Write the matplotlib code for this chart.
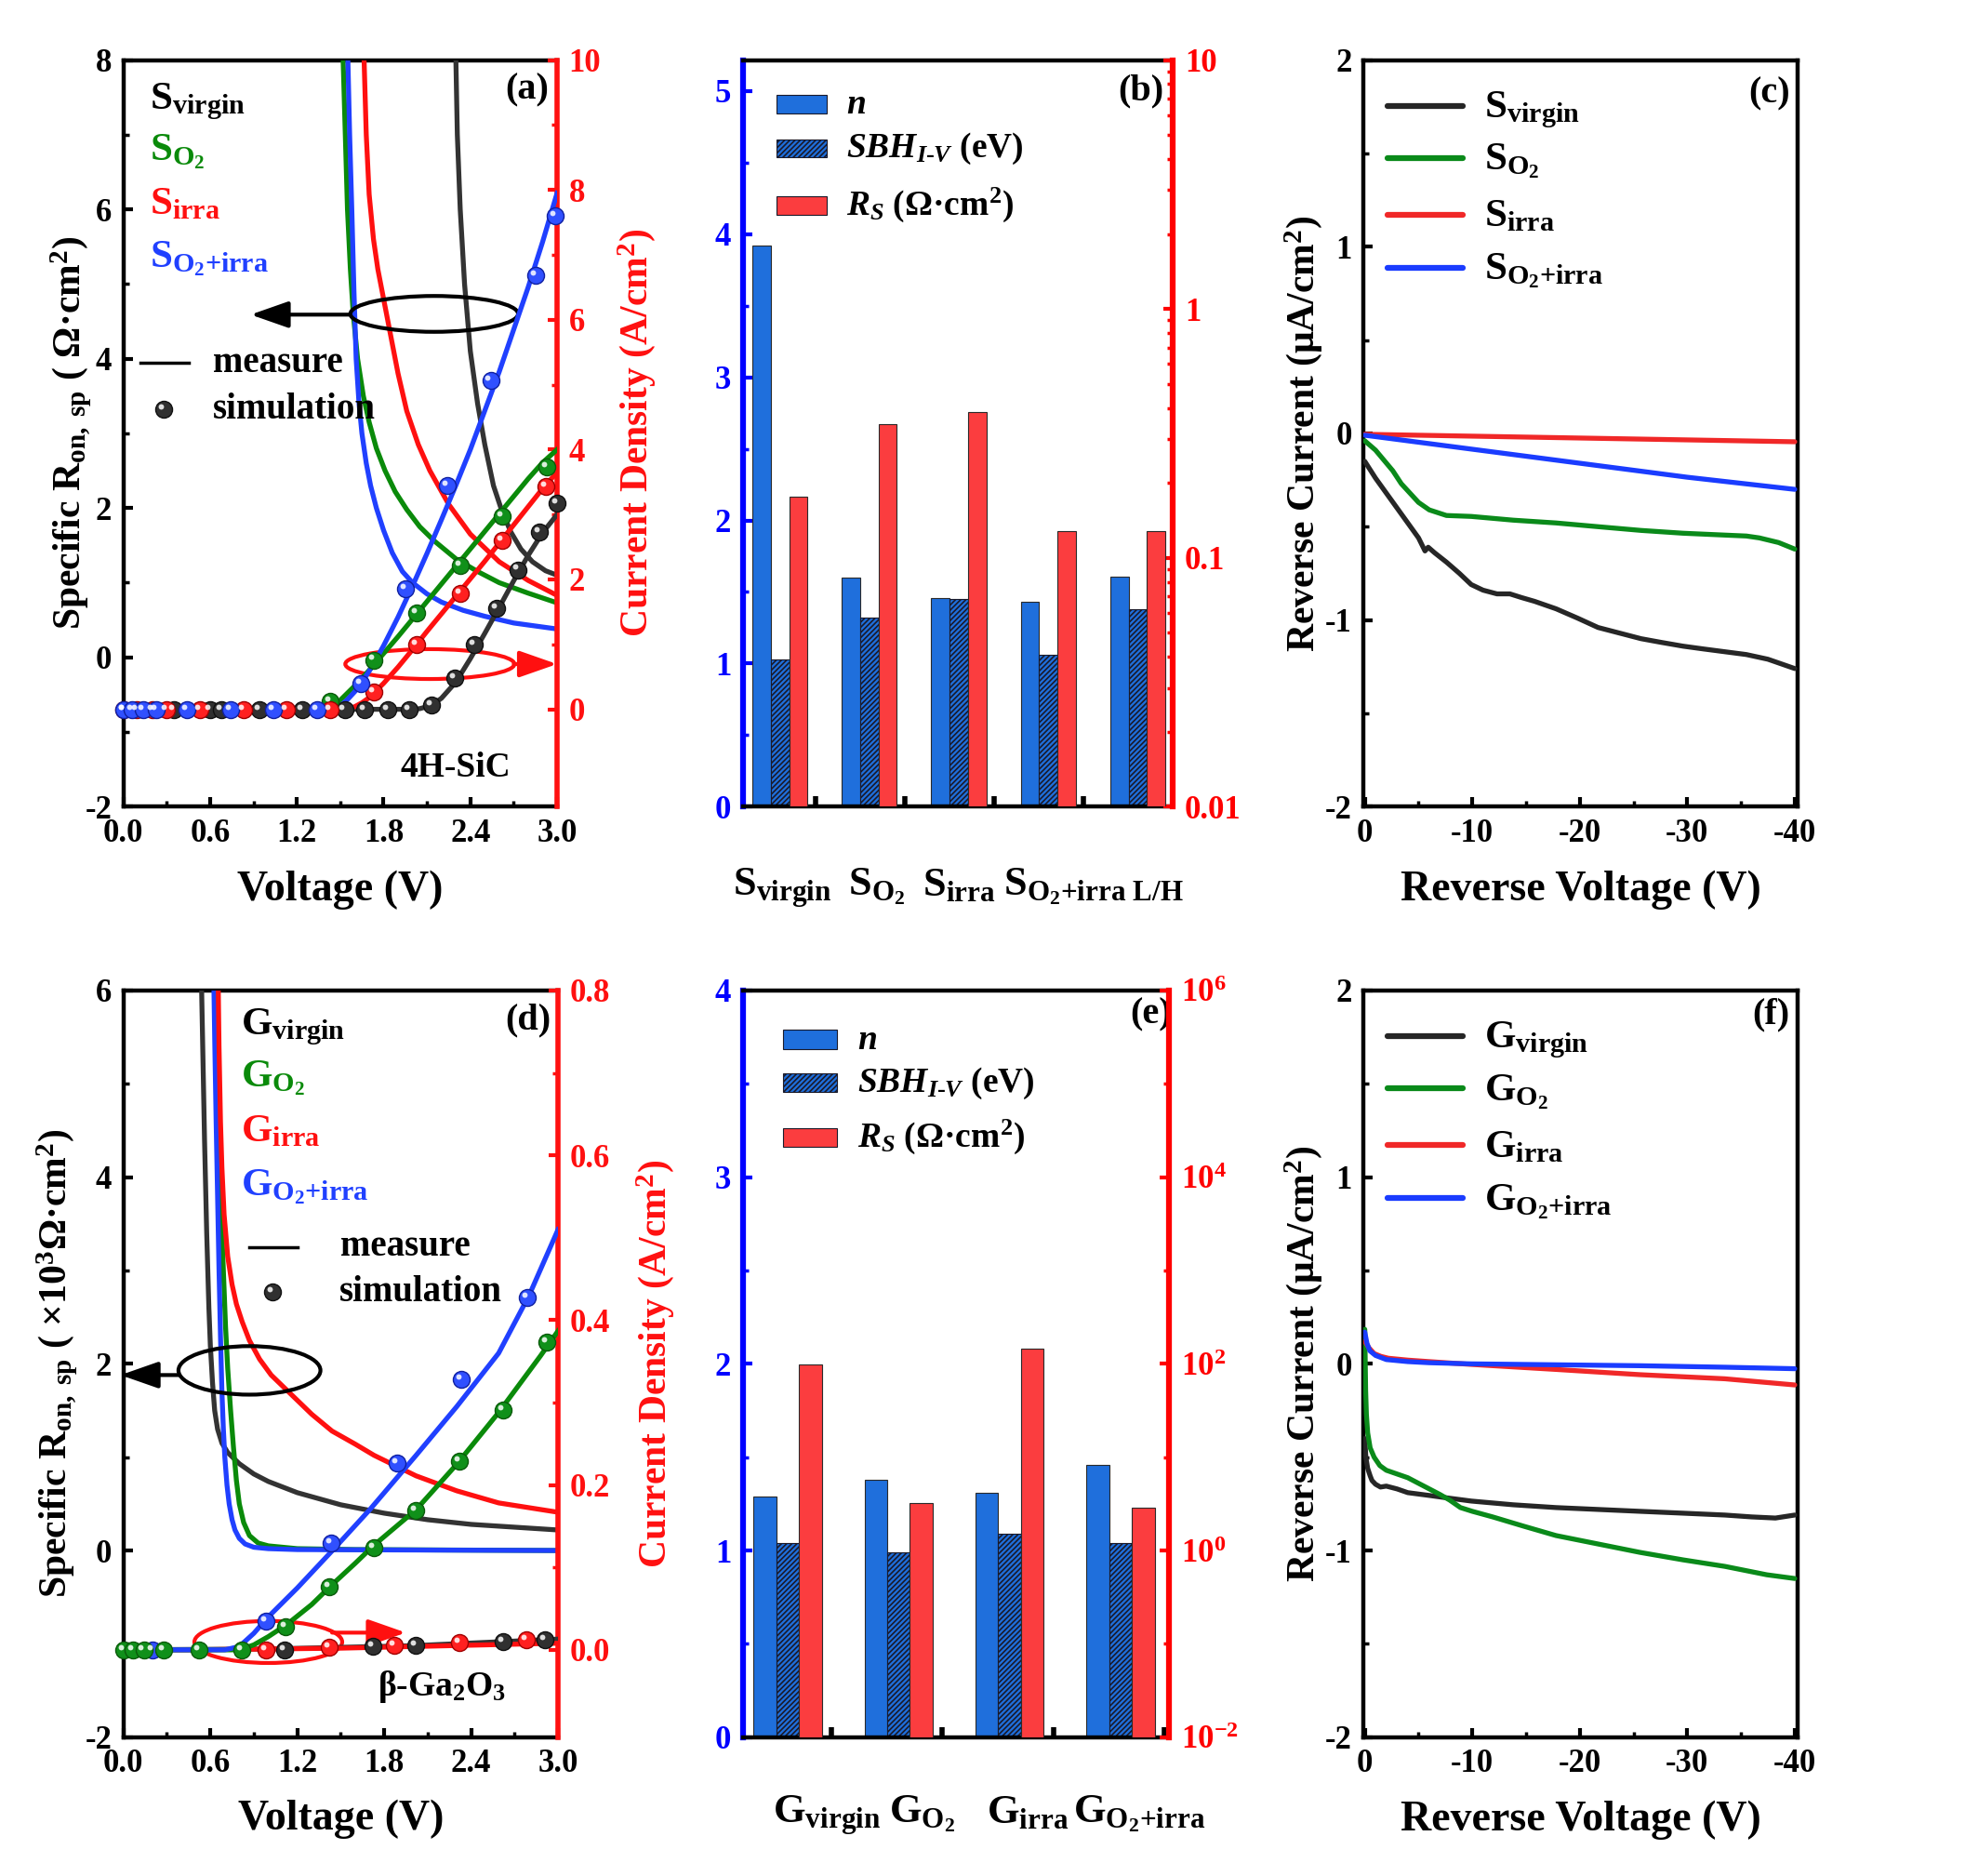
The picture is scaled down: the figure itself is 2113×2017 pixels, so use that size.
import numpy as np
import matplotlib
matplotlib.use('Agg')
import matplotlib.pyplot as plt
from matplotlib.patches import Ellipse, Rectangle
from matplotlib.transforms import offset_copy, blended_transform_factory
from matplotlib.lines import Line2D
from matplotlib.ticker import LogLocator, NullFormatter

plt.rcParams.update({
    'font.family': ['Liberation Serif', 'DejaVu Serif'],
    'font.weight': 'bold',
    'axes.labelweight': 'bold',
    'axes.unicode_minus': False,
    'mathtext.fontset': 'custom',
    'mathtext.rm': 'Liberation Serif:bold',
    'mathtext.it': 'Liberation Serif:italic:bold',
    'mathtext.bf': 'Liberation Serif:bold',
    'mathtext.default': 'rm',
    'axes.linewidth': 3.2,
    'hatch.linewidth': 1.2,
})

# ---------------- colours ----------------
C_BLACK = '#333333'
C_GREEN = '#0a8a0a'
C_RED = '#ff1010'
C_BLUE = '#2040ff'
BAR_BLUE = '#1f6fdc'
BAR_RED = '#fb3d3f'

# ---------------- panel (a) data : 4H-SiC ----------------
a_ron_virgin_v = [2.30, 2.31, 2.33, 2.36, 2.40, 2.45, 2.50, 2.56, 2.62, 2.68, 2.75, 2.83, 2.92, 3.0]
a_ron_virgin = [8.0, 7.0, 6.0, 5.0, 4.1, 3.4, 2.85, 2.3, 1.95, 1.68, 1.45, 1.28, 1.16, 1.1]
a_ron_o2_v = [1.52, 1.535, 1.55, 1.57, 1.59, 1.62, 1.66, 1.70, 1.75, 1.81, 1.88, 1.96, 2.05, 2.15, 2.3, 2.45, 2.6, 2.8, 3.0]
a_ron_o2 = [8.0, 7.0, 6.0, 5.2, 4.6, 4.0, 3.5, 3.15, 2.8, 2.5, 2.22, 1.98, 1.75, 1.56, 1.32, 1.15, 1.0, 0.86, 0.73]
a_ron_irra_v = [1.665, 1.68, 1.70, 1.73, 1.76, 1.80, 1.85, 1.90, 1.96, 2.04, 2.12, 2.25, 2.4, 2.6, 2.8, 3.0]
a_ron_irra = [8.0, 7.0, 6.2, 5.6, 5.2, 4.8, 4.3, 3.8, 3.3, 2.85, 2.5, 2.05, 1.65, 1.28, 1.03, 0.83]
a_ron_o2irra_v = [1.553, 1.565, 1.58, 1.595, 1.61, 1.63, 1.65, 1.68, 1.71, 1.75, 1.80, 1.86, 1.93, 2.0, 2.1, 2.2, 2.35, 2.5, 2.7, 2.85, 3.0]
a_ron_o2irra = [8.0, 7.0, 6.0, 4.9, 4.0, 3.4, 3.0, 2.6, 2.3, 2.0, 1.7, 1.4, 1.15, 1.0, 0.85, 0.74, 0.63, 0.55, 0.46, 0.42, 0.38]

a_j_virgin_v = [0, 2.0, 2.05, 2.1, 2.15, 2.2, 2.3, 2.4, 2.5, 2.6, 2.7, 2.8, 2.9, 3.0]
a_j_virgin = [0, 0, 0.01, 0.04, 0.09, 0.17, 0.42, 0.78, 1.17, 1.57, 1.98, 2.37, 2.72, 3.0]
a_j_o2_v = [0, 1.4, 1.45, 1.5, 1.55, 1.6, 1.7, 1.8, 1.9, 2.0, 2.1, 2.2, 2.3, 2.4, 2.5, 2.6, 2.7, 2.8, 2.9, 3.0]
a_j_o2 = [0, 0, 0.05, 0.14, 0.25, 0.36, 0.6, 0.86, 1.12, 1.39, 1.66, 1.93, 2.2, 2.47, 2.74, 3.01, 3.28, 3.55, 3.8, 4.0]
a_j_irra_v = [0, 1.55, 1.6, 1.65, 1.7, 1.8, 1.9, 2.0, 2.1, 2.2, 2.3, 2.4, 2.5, 2.6, 2.7, 2.8, 2.9, 3.0]
a_j_irra = [0, 0, 0.04, 0.1, 0.18, 0.4, 0.65, 0.92, 1.2, 1.47, 1.74, 2.01, 2.28, 2.56, 2.84, 3.12, 3.4, 3.65]
a_j_o2irra_v = [0, 1.45, 1.5, 1.55, 1.6, 1.65, 1.72, 1.8, 1.9, 2.0, 2.1, 2.2, 2.3, 2.4, 2.5, 2.6, 2.7, 2.8, 2.9, 3.0]
a_j_o2irra = [0, 0, 0.05, 0.15, 0.27, 0.41, 0.66, 0.98, 1.42, 1.9, 2.4, 2.92, 3.45, 4.0, 4.6, 5.2, 5.85, 6.5, 7.2, 7.95]

a_sim_virgin_v = [0.35, 0.6, 0.68, 0.94, 1.24, 1.53, 1.67, 1.83, 1.98, 2.13, 2.29, 2.43, 2.58, 2.73, 2.88, 3.0]
a_sim_virgin = [0, 0, 0, 0, 0, 0, 0, 0, 0, 0.06, 0.48, 1.0, 1.56, 2.15, 2.73, 3.18]
a_sim_o2_v = [1.43, 1.73, 2.03, 2.33, 2.62, 2.93]
a_sim_o2 = [0.12, 0.76, 1.49, 2.22, 2.97, 3.73]
a_sim_irra_v = [0.0, 0.09, 0.2, 0.3, 0.53, 0.83, 1.13, 1.43, 1.73, 2.03, 2.33, 2.62, 2.92]
a_sim_irra = [0, 0, 0, 0, 0, 0, 0, 0, 0.26, 1.0, 1.79, 2.6, 3.43]
a_sim_o2irra_v = [0, 0.06, 0.14, 0.23, 0.44, 0.74, 1.04, 1.34, 1.645, 1.95, 2.24, 2.54, 2.85, 2.99]
a_sim_o2irra = [0, 0, 0, 0, 0, 0, 0, 0, 0.39, 1.86, 3.44, 5.06, 6.69, 7.6]

# ---------------- panel (b) data ----------------
b_groups = [1, 2, 3, 4, 5]
b_labels = [r'S$_{\mathrm{virgin}}$', r'S$_{\mathrm{O_2}}$', r'S$_{\mathrm{irra}}$',
            r'S$_{\mathrm{O_2}\text{+irra L/H}}$']
b_label_x = [1.03, 2.08, 3.0, 4.51]
b_n = [3.92, 1.60, 1.46, 1.43, 1.61]
b_sbh = [1.03, 1.32, 1.45, 1.06, 1.38]
b_rs = [0.176, 0.343, 0.385, 0.128, 0.128]

# ---------------- panel (c) data ----------------
c_virgin_v = [0, -1, -2, -3, -4, -5, -5.6, -5.9, -6.5, -7.6, -8.8, -9.9, -11, -12.3, -13.5, -14.6, -15.8, -17.8, -19.8, -21.7, -23.7, -25.7, -27.6, -29.6, -31.5, -33.5, -35.5, -37.5, -40]
c_virgin = [-0.15, -0.24, -0.32, -0.40, -0.48, -0.56, -0.63, -0.61, -0.64, -0.69, -0.75, -0.81, -0.84, -0.86, -0.86, -0.88, -0.90, -0.94, -0.99, -1.04, -1.07, -1.10, -1.12, -1.14, -1.155, -1.17, -1.185, -1.21, -1.26]
c_o2_v = [0, -1, -2.6, -3.4, -4.2, -5.0, -6.0, -7.6, -9.9, -13.8, -17.8, -21.7, -25.7, -29.6, -33.5, -35.5, -36.7, -38.5, -40]
c_o2 = [-0.04, -0.09, -0.20, -0.27, -0.32, -0.37, -0.41, -0.44, -0.445, -0.465, -0.48, -0.50, -0.52, -0.535, -0.545, -0.55, -0.56, -0.585, -0.62]
c_irra_v = [0, -10, -20, -30, -40]
c_irra = [-0.005, -0.015, -0.025, -0.035, -0.045]
c_o2irra_v = [0, -10, -20, -30, -40]
c_o2irra = [-0.01, -0.085, -0.16, -0.235, -0.30]

# ---------------- panel (d) data : beta-Ga2O3 ----------------
d_ron_virgin_v = [0.54, 0.55, 0.56, 0.575, 0.59, 0.60, 0.615, 0.63, 0.65, 0.68, 0.72, 0.8, 0.9, 1.0, 1.2, 1.5, 1.8, 2.1, 2.4, 2.7, 3.0]
d_ron_virgin = [6.0, 5.2, 4.4, 3.4, 2.6, 2.2, 1.8, 1.5, 1.3, 1.15, 1.05, 0.93, 0.82, 0.74, 0.62, 0.49, 0.40, 0.33, 0.28, 0.25, 0.22]
d_ron_o2_v = [0.64, 0.65, 0.66, 0.675, 0.69, 0.705, 0.72, 0.74, 0.76, 0.78, 0.80, 0.83, 0.87, 0.93, 1.0, 1.2, 1.6, 3.0]
d_ron_o2 = [6.0, 5.2, 4.5, 3.6, 3.0, 2.4, 1.95, 1.5, 1.1, 0.75, 0.5, 0.3, 0.16, 0.08, 0.05, 0.02, 0.01, 0.0]
d_ron_irra_v = [0.655, 0.66, 0.67, 0.68, 0.695, 0.72, 0.75, 0.78, 0.82, 0.87, 0.94, 1.02, 1.16, 1.3, 1.44, 1.6, 1.73, 2.02, 2.3, 2.59, 3.0]
d_ron_irra = [6.0, 5.4, 4.6, 4.1, 3.6, 3.15, 2.85, 2.64, 2.45, 2.25, 2.05, 1.88, 1.67, 1.46, 1.28, 1.14, 1.02, 0.80, 0.64, 0.51, 0.41]
d_ron_o2irra_v = [0.625, 0.63, 0.64, 0.65, 0.66, 0.67, 0.68, 0.69, 0.70, 0.715, 0.73, 0.75, 0.77, 0.80, 0.84, 0.9, 1.0, 1.2, 3.0]
d_ron_o2irra = [6.0, 5.5, 4.6, 3.8, 3.0, 2.3, 1.7, 1.3, 1.0, 0.7, 0.5, 0.33, 0.22, 0.13, 0.07, 0.035, 0.02, 0.01, 0.0]

d_j_virgin_v = [0, 0.5, 1.0, 1.5, 2.0, 2.5, 3.0]
d_j_virgin = [0, 0.0005, 0.001, 0.003, 0.005, 0.009, 0.013]
d_j_o2_v = [0, 0.8, 0.9, 1.0, 1.13, 1.3, 1.44, 1.6, 1.73, 2.02, 2.3, 2.59, 2.88, 3.0]
d_j_o2 = [0, 0, 0.006, 0.016, 0.031, 0.055, 0.079, 0.105, 0.127, 0.17, 0.225, 0.288, 0.357, 0.387]
d_j_irra_v = [0, 0.5, 1.0, 1.5, 2.0, 2.5, 3.0]
d_j_irra = [0, 0, 0.001, 0.002, 0.004, 0.006, 0.008]
d_j_o2irra_v = [0, 0.7, 0.8, 0.9, 1.0, 1.2, 1.44, 1.7, 2.02, 2.3, 2.59, 2.8, 3.0]
d_j_o2irra = [0, 0, 0.004, 0.02, 0.04, 0.075, 0.12, 0.17, 0.236, 0.295, 0.36, 0.43, 0.51]

d_sim_virgin_v = [1.11, 1.72, 2.02, 2.62, 2.91]
d_sim_virgin = [0.0, 0.004, 0.005, 0.010, 0.012]
d_sim_o2_v = [0, 0.066, 0.14, 0.28, 0.525, 0.82, 1.12, 1.42, 1.73, 2.02, 2.32, 2.62, 2.92]
d_sim_o2 = [0, 0, 0, 0, 0, 0, 0.028, 0.077, 0.124, 0.169, 0.229, 0.291, 0.373]
d_sim_irra_v = [0.985, 1.42, 1.87, 2.32, 2.78]
d_sim_irra = [0.0, 0.003, 0.005, 0.009, 0.012]
d_sim_o2irra_v = [0.2, 0.985, 1.435, 1.89, 2.33, 2.79]
d_sim_o2irra = [0.0, 0.035, 0.13, 0.227, 0.328, 0.428]

# ---------------- panel (e) data ----------------
e_groups = [1, 2, 3, 4]
e_labels = [r'G$_{\mathrm{virgin}}$', r'G$_{\mathrm{O_2}}$', r'G$_{\mathrm{irra}}$',
            r'G$_{\mathrm{O_2}\text{+irra}}$']
e_label_x = [1.35, 2.21, 3.16, 4.17]
e_n = [1.29, 1.38, 1.31, 1.46]
e_sbh = [1.04, 0.99, 1.09, 1.04]
e_rs = [98.6, 3.2, 144.0, 2.9]

# ---------------- panel (f) data ----------------
f_virgin_v = [0, -0.1, -0.27, -0.5, -0.67, -1.0, -1.46, -2.0, -3.0, -4.0, -6.0, -7.9, -9.9, -13.8, -17.8, -21.7, -25.6, -29.6, -33.5, -36, -38.2, -40]
f_virgin = [-0.40, -0.50, -0.56, -0.60, -0.625, -0.645, -0.66, -0.655, -0.67, -0.69, -0.705, -0.72, -0.735, -0.755, -0.77, -0.78, -0.79, -0.80, -0.81, -0.82, -0.826, -0.81]
f_o2_v = [0, -0.04, -0.08, -0.15, -0.27, -0.5, -0.87, -1.4, -2.0, -3.0, -4.0, -5.0, -6.0, -7.0, -7.9, -8.9, -10, -11.9, -14.8, -17.8, -21.7, -25.6, -29.6, -33.5, -37.4, -40]
f_o2 = [0.185, 0.02, -0.14, -0.27, -0.37, -0.45, -0.50, -0.545, -0.57, -0.59, -0.61, -0.64, -0.67, -0.70, -0.73, -0.77, -0.79, -0.82, -0.87, -0.92, -0.965, -1.01, -1.05, -1.085, -1.13, -1.15]
f_irra_v = [0, -0.4, -0.87, -1.5, -2.2, -4, -6, -9.9, -17.8, -25.6, -33.5, -40]
f_irra = [0.12, 0.085, 0.055, 0.04, 0.03, 0.02, 0.012, -0.003, -0.03, -0.058, -0.08, -0.113]
f_o2irra_v = [0, -0.2, -0.47, -1.0, -2.0, -4.0, -6.0, -9.9, -17.8, -25.6, -33.5, -40]
f_o2irra = [0.17, 0.11, 0.07, 0.045, 0.023, 0.012, 0.006, 0.0, -0.005, -0.01, -0.018, -0.026]

# =====================================================================
fig = plt.figure(figsize=(21.13, 20.17), dpi=100)

TICK_FS = 25
XLAB_FS = 33
YLAB_FS = 30
LEG_FS = 31
NOTE_FS = 28
TAG_FS = 29
LW = 3.8


def bold_ticklabels(ax):
    for lab in ax.get_xticklabels() + ax.get_yticklabels():
        lab.set_fontweight('bold')


def base_ticks(ax):
    ax.tick_params(which='both', direction='in', top=False, right=False,
                   labelsize=TICK_FS, pad=9, colors='k')
    ax.tick_params(which='major', length=7, width=3)
    ax.tick_params(which='minor', length=4, width=2.5)


def right_ticks(axr, color):
    axr.tick_params(axis='y', which='both', direction='in', colors=color,
                    labelsize=TICK_FS, pad=9)
    axr.tick_params(axis='y', which='major', length=7, width=3)
    axr.tick_params(axis='y', which='minor', length=4, width=2.5)
    for s in ['left', 'top', 'bottom']:
        axr.spines[s].set_visible(False)
    axr.spines['right'].set_color(color)
    axr.spines['right'].set_linewidth(4)


def balls(ax, x, y, color, edge):
    ax.plot(x, y, 'o', ms=13, mfc=color, mec=edge, mew=1.0, zorder=6, clip_on=False, ls='none')
    tr = offset_copy(ax.transData, fig=fig, x=-2.2, y=2.2, units='points')
    ax.plot(x, y, 'o', ms=4.2, mfc='white', mec='none', alpha=0.85, zorder=7,
            transform=tr, clip_on=False, ls='none')


def arrow(ax, start, end, color, lw=3):
    ax.annotate('', xy=end, xytext=start,
                arrowprops=dict(arrowstyle='-|>,head_length=1.0,head_width=0.35',
                                mutation_scale=25, lw=lw, color=color,
                                shrinkA=0, shrinkB=0),
                annotation_clip=False, zorder=8)


# ---------------------------- (a) ----------------------------
axa = fig.add_axes([0.0628, 0.570, 0.2207, 0.398])
axar = axa.twinx()
axa.set_xlim(0, 3.0)
axa.set_ylim(-2, 8)
axar.set_ylim(-1.5, 10)
axa.set_xticks([0.0, 0.6, 1.2, 1.8, 2.4, 3.0])
axa.set_xticklabels(['0.0', '0.6', '1.2', '1.8', '2.4', '3.0'])
axa.set_xticks([0.3, 0.9, 1.5, 2.1, 2.7], minor=True)
axa.set_yticks([-2, 0, 2, 4, 6, 8])
axa.set_yticklabels(['-2', '0', '2', '4', '6', '8'])
axa.set_yticks([-1, 1, 3, 5, 7], minor=True)
axar.set_yticks([0, 2, 4, 6, 8, 10])
axar.set_yticklabels(['0', '2', '4', '6', '8', '10'])
axar.set_yticks([1, 3, 5, 7, 9], minor=True)
base_ticks(axa)
right_ticks(axar, C_RED)
axa.spines['right'].set_visible(False)
bold_ticklabels(axa)
bold_ticklabels(axar)

for v, r, c in [(a_ron_virgin_v, a_ron_virgin, C_BLACK), (a_ron_o2_v, a_ron_o2, C_GREEN),
                (a_ron_irra_v, a_ron_irra, C_RED), (a_ron_o2irra_v, a_ron_o2irra, C_BLUE)]:
    axa.plot(v, r, color=c, lw=LW, zorder=3)
for v, j, c in [(a_j_virgin_v, a_j_virgin, C_BLACK), (a_j_o2_v, a_j_o2, C_GREEN),
                (a_j_irra_v, a_j_irra, C_RED), (a_j_o2irra_v, a_j_o2irra, C_BLUE)]:
    axar.plot(v, j, color=c, lw=LW, zorder=3)
balls(axar, a_sim_virgin_v, a_sim_virgin, '#303030', '#101010')
balls(axar, a_sim_o2_v, a_sim_o2, '#10901a', '#0a5a0a')
balls(axar, a_sim_irra_v, a_sim_irra, '#ff2020', '#a00000')
balls(axar, a_sim_o2irra_v, a_sim_o2irra, '#3050ff', '#1020a0')

axa.add_patch(Ellipse((2.15, 4.6), 1.16, 0.48, fill=False, ec='black', lw=3, zorder=8))
arrow(axa, (1.57, 4.59), (0.88, 4.59), 'black')
axa.add_patch(Ellipse((2.12, -0.09), 1.17, 0.40, fill=False, ec=C_RED, lw=3, zorder=8))
arrow(axa, (2.70, -0.09), (3.0, -0.09), C_RED)

axa.text(0.18, 7.44, r'S$_{\mathrm{virgin}}$', color='black', fontsize=LEG_FS, va='center', zorder=9)
axa.text(0.18, 6.77, r'S$_{\mathrm{O_2}}$', color=C_GREEN, fontsize=LEG_FS, va='center', zorder=9)
axa.text(0.18, 6.06, r'S$_{\mathrm{irra}}$', color=C_RED, fontsize=LEG_FS, va='center', zorder=9)
axa.text(0.18, 5.34, r'S$_{\mathrm{O_2}\text{+irra}}$', color=C_BLUE, fontsize=LEG_FS, va='center', zorder=9)
axa.plot([0.12, 0.45], [3.94, 3.94], color='black', lw=2.5, zorder=9)
axa.text(0.62, 3.94, 'measure', fontsize=NOTE_FS, va='center', zorder=9)
balls(axa, [0.28], [3.32], '#303030', '#101010')
axa.text(0.62, 3.32, 'simulation', fontsize=NOTE_FS, va='center', zorder=9)
axa.text(2.3, -1.48, '4H-SiC', fontsize=27, ha='center', va='center')
axa.text(2.79, 7.6, '(a)', fontsize=TAG_FS, ha='center', va='center')

axa.set_xlabel('Voltage (V)', fontsize=XLAB_FS)
axa.xaxis.set_label_coords(0.5, -0.085)
axa.xaxis.label.set_va('top')
axa.set_ylabel(r'Specific R$_{\mathrm{on,\ sp}}$ ( Ω·cm$^{2}$)', fontsize=YLAB_FS)
axa.yaxis.set_label_coords(-0.068, 0.5)
axar.set_ylabel(r'Current Density (A/cm$^{2}$)', fontsize=YLAB_FS, color=C_RED)
axar.yaxis.set_label_coords(1.136, 0.5)


# ---------------------------- bar panels ----------------------------
def bar_panel(rect, groups, nvals, sbhvals, rsvals, lylim, lmaj, lmin, rylim, rmaj, rlabels, rmin,
              xlim, labels, label_x, label_y, tag, tag_xy, leg_x0, leg_x1, leg_rows, leg_tx):
    ax = fig.add_axes(rect)
    axr = ax.twinx()
    ax.set_xlim(*xlim)
    ax.set_ylim(*lylim)
    axr.set_yscale('log')
    axr.set_ylim(*rylim)
    g = np.array(groups, dtype=float)
    w = 0.205
    ax.bar(g - w, nvals, width=w, color=BAR_BLUE, edgecolor='#2a2a2a', lw=0.8, zorder=2)
    ax.bar(g, sbhvals, width=w, color=BAR_BLUE, edgecolor='#1a1a2a', lw=0.8, hatch='//////', zorder=2)
    axr.bar(g + w, [v - rylim[0] for v in rsvals], bottom=rylim[0], width=w,
            color=BAR_RED, edgecolor='#2a2a2a', lw=0.8, zorder=2)
    base_ticks(ax)
    ax.set_yticks(lmaj)
    ax.set_yticklabels([str(v) for v in lmaj])
    ax.set_yticks(lmin, minor=True)
    ax.tick_params(axis='y', which='both', colors='#0000ff')
    ax.spines['left'].set_color('#0000ff')
    ax.spines['left'].set_linewidth(4.5)
    ax.spines['right'].set_visible(False)
    ax.set_xticks(g + 0.395)
    ax.set_xticklabels([])
    ax.set_xticks(g - 0.11, minor=True)
    ax.tick_params(axis='x', which='major', length=8, width=4)
    ax.tick_params(axis='x', which='minor', length=3, width=2.5)
    right_ticks(axr, '#ff0000')
    axr.spines['right'].set_linewidth(4.5)
    axr.set_yticks(rmaj)
    axr.set_yticklabels(rlabels)
    if rmin is not None:
        axr.set_yticks(rmin, minor=True)
        axr.set_yticklabels([], minor=True)
    else:
        axr.yaxis.set_minor_locator(LogLocator(base=10, subs=np.arange(2, 10)))
        axr.yaxis.set_minor_formatter(NullFormatter())
    bold_ticklabels(ax)
    bold_ticklabels(axr)
    tr = blended_transform_factory(ax.transData, ax.transAxes)
    for lab, x in zip(labels, label_x):
        ax.text(x, label_y, lab, transform=tr, fontsize=32, ha='center', va='baseline')
    ax.text(tag_xy[0], tag_xy[1], tag, fontsize=TAG_FS, ha='center', va='center')
    # legend
    items = [(dict(color=BAR_BLUE), r'$\mathit{n}$'),
             (dict(color=BAR_BLUE, hatch='//////'), r'$\mathit{SBH}_{\mathit{I\text{-}V}}$ (eV)'),
             (dict(color=BAR_RED), r'$\mathit{R}_{\mathit{S}}$ (Ω·cm$^{2}$)')]
    for (kw, lab), (y0, y1) in zip(items, leg_rows):
        ax.add_patch(Rectangle((leg_x0, y1), leg_x1 - leg_x0, y0 - y1, transform=ax.transAxes,
                               facecolor=kw['color'], edgecolor='#1a1a2a', lw=0.8,
                               hatch=kw.get('hatch'), zorder=9, clip_on=False))
        ax.text(leg_tx, y1, lab, transform=ax.transAxes, fontsize=27, va='baseline', zorder=9)
    return ax, axr


bar_panel([0.378, 0.570, 0.219, 0.398], b_groups, b_n, b_sbh, b_rs,
          (0, 5.216), [0, 1, 2, 3, 4, 5], [0.5, 1.5, 2.5, 3.5, 4.5],
          (0.01, 10), [0.01, 0.1, 1, 10], ['0.01', '0.1', '1', '10'], None,
          (0.585, 5.35), b_labels, b_label_x, -0.119, '(b)', (5.04, 5.0),
          0.078, 0.195, [(0.953, 0.929), (0.894, 0.870), (0.818, 0.793)], 0.24)

bar_panel([0.378, 0.074, 0.217, 0.398], e_groups, e_n, e_sbh, e_rs,
          (0, 4), [0, 1, 2, 3, 4], [0.5, 1.5, 2.5, 3.5],
          (1e-2, 1e6), [1e-2, 1e0, 1e2, 1e4, 1e6],
          [r'10$^{-2}$', r'10$^{0}$', r'10$^{2}$', r'10$^{4}$', r'10$^{6}$'],
          [1e-1, 1e1, 1e3, 1e5],
          (0.597, 4.437), e_labels, e_label_x, -0.115, '(e)', (4.27, 3.87),
          0.094, 0.22, [(0.948, 0.922), (0.889, 0.864), (0.816, 0.791)], 0.268)


# ---------------------------- reverse panels ----------------------------
def rev_panel(rect, series, names, tag, tag_xy):
    ax = fig.add_axes(rect)
    ax.set_xlim(0.1, -40.3)
    ax.set_ylim(-2, 2)
    ax.set_xticks([0, -10, -20, -30, -40])
    ax.set_xticklabels(['0', '-10', '-20', '-30', '-40'])
    ax.set_xticks([-5, -15, -25, -35], minor=True)
    ax.set_yticks([-2, -1, 0, 1, 2])
    ax.set_yticklabels(['-2', '-1', '0', '1', '2'])
    ax.set_yticks([-1.5, -0.5, 0.5, 1.5], minor=True)
    base_ticks(ax)
    bold_ticklabels(ax)
    cols = ['#262626', '#0a8a1a', '#f02828', '#1a3cff']
    for (v, i), c in zip(series, cols):
        ax.plot(v, i, color=c, lw=LW, zorder=3, solid_capstyle='round')
    rows = [0.939, 0.869, 0.793, 0.722]
    for c, nm, y in zip(cols, names, rows):
        ax.add_line(Line2D([0.054, 0.229], [y, y], transform=ax.transAxes, color=c, lw=4.5,
                           solid_capstyle='round'))
        ax.text(0.278, y - 0.016, nm, transform=ax.transAxes, fontsize=LEG_FS, va='baseline')
    ax.text(tag_xy[0], tag_xy[1], tag, fontsize=TAG_FS, ha='center', va='center')
    ax.set_xlabel('Reverse Voltage (V)', fontsize=XLAB_FS)
    ax.xaxis.set_label_coords(0.5, -0.085)
    ax.xaxis.label.set_va('top')
    ax.set_ylabel(r'Reverse Current (μA/cm$^{2}$)', fontsize=YLAB_FS)
    ax.yaxis.set_label_coords(-0.09, 0.5)
    return ax


rev_panel([0.694, 0.570, 0.221, 0.398],
          [(c_virgin_v, c_virgin), (c_o2_v, c_o2), (c_irra_v, c_irra), (c_o2irra_v, c_o2irra)],
          [r'S$_{\mathrm{virgin}}$', r'S$_{\mathrm{O_2}}$', r'S$_{\mathrm{irra}}$', r'S$_{\mathrm{O_2}\text{+irra}}$'],
          '(c)', (-37.6, 1.82))
rev_panel([0.694, 0.074, 0.221, 0.398],
          [(f_virgin_v, f_virgin), (f_o2_v, f_o2), (f_irra_v, f_irra), (f_o2irra_v, f_o2irra)],
          [r'G$_{\mathrm{virgin}}$', r'G$_{\mathrm{O_2}}$', r'G$_{\mathrm{irra}}$', r'G$_{\mathrm{O_2}\text{+irra}}$'],
          '(f)', (-37.8, 1.87))

# ---------------------------- (d) ----------------------------
axd = fig.add_axes([0.0628, 0.074, 0.2212, 0.398])
axdr = axd.twinx()
axd.set_xlim(0, 3.0)
axd.set_ylim(-2, 6)
axdr.set_ylim(-0.106, 0.8)
axd.set_xticks([0.0, 0.6, 1.2, 1.8, 2.4, 3.0])
axd.set_xticklabels(['0.0', '0.6', '1.2', '1.8', '2.4', '3.0'])
axd.set_xticks([0.3, 0.9, 1.5, 2.1, 2.7], minor=True)
axd.set_yticks([-2, 0, 2, 4, 6])
axd.set_yticklabels(['-2', '0', '2', '4', '6'])
axd.set_yticks([-1, 1, 3, 5], minor=True)
axdr.set_yticks([0.0, 0.2, 0.4, 0.6, 0.8])
axdr.set_yticklabels(['0.0', '0.2', '0.4', '0.6', '0.8'])
axdr.set_yticks([0.1, 0.3, 0.5, 0.7], minor=True)
base_ticks(axd)
right_ticks(axdr, C_RED)
axd.spines['right'].set_visible(False)
bold_ticklabels(axd)
bold_ticklabels(axdr)

for v, r, c in [(d_ron_virgin_v, d_ron_virgin, C_BLACK), (d_ron_o2_v, d_ron_o2, C_GREEN),
                (d_ron_o2irra_v, d_ron_o2irra, C_BLUE), (d_ron_irra_v, d_ron_irra, C_RED)]:
    axd.plot(v, r, color=c, lw=LW, zorder=3)
for v, j, c in [(d_j_virgin_v, d_j_virgin, C_BLACK), (d_j_irra_v, d_j_irra, C_RED),
                (d_j_o2_v, d_j_o2, C_GREEN), (d_j_o2irra_v, d_j_o2irra, C_BLUE)]:
    axdr.plot(v, j, color=c, lw=LW, zorder=3)
balls(axdr, d_sim_virgin_v, d_sim_virgin, '#303030', '#101010')
balls(axdr, d_sim_irra_v, d_sim_irra, '#ff2020', '#a00000')
balls(axdr, d_sim_o2irra_v, d_sim_o2irra, '#3050ff', '#1020a0')
balls(axdr, d_sim_o2_v, d_sim_o2, '#10901a', '#0a5a0a')

axd.add_patch(Ellipse((0.87, 1.93), 0.98, 0.52, fill=False, ec='black', lw=3, zorder=8))
arrow(axd, (0.38, 1.88), (-0.02, 1.88), 'black')
axd.add_patch(Ellipse((1.0, -0.98), 1.02, 0.45, fill=False, ec=C_RED, lw=3, zorder=8))
arrow(axd, (1.44, -0.88), (1.95, -0.88), C_RED)

axd.text(0.81, 5.61, r'G$_{\mathrm{virgin}}$', color='black', fontsize=LEG_FS, va='center', zorder=9)
axd.text(0.81, 5.06, r'G$_{\mathrm{O_2}}$', color=C_GREEN, fontsize=LEG_FS, va='center', zorder=9)
axd.text(0.81, 4.48, r'G$_{\mathrm{irra}}$', color=C_RED, fontsize=LEG_FS, va='center', zorder=9)
axd.text(0.81, 3.90, r'G$_{\mathrm{O_2}\text{+irra}}$', color=C_BLUE, fontsize=LEG_FS, va='center', zorder=9)
axd.plot([0.87, 1.2], [3.25, 3.25], color='black', lw=2.5, zorder=9)
axd.text(1.5, 3.25, 'measure', fontsize=NOTE_FS, va='center', zorder=9)
balls(axd, [1.03], [2.77], '#303030', '#101010')
axd.text(1.49, 2.77, 'simulation', fontsize=NOTE_FS, va='center', zorder=9)
axd.text(2.2, -1.46, r'β-Ga$_{2}$O$_{3}$', fontsize=27, ha='center', va='center')
axd.text(2.79, 5.68, '(d)', fontsize=TAG_FS, ha='center', va='center')

axd.set_xlabel('Voltage (V)', fontsize=XLAB_FS)
axd.xaxis.set_label_coords(0.5, -0.083)
axd.xaxis.label.set_va('top')
axd.set_ylabel(r'Specific R$_{\mathrm{on,\ sp}}$ ( ×10$^{3}$Ω·cm$^{2}$)', fontsize=YLAB_FS)
axd.yaxis.set_label_coords(-0.10, 0.5)
axdr.set_ylabel(r'Current Density (A/cm$^{2}$)', fontsize=YLAB_FS, color=C_RED)
axdr.yaxis.set_label_coords(1.176, 0.5)

fig.savefig('out.png', dpi=100)
